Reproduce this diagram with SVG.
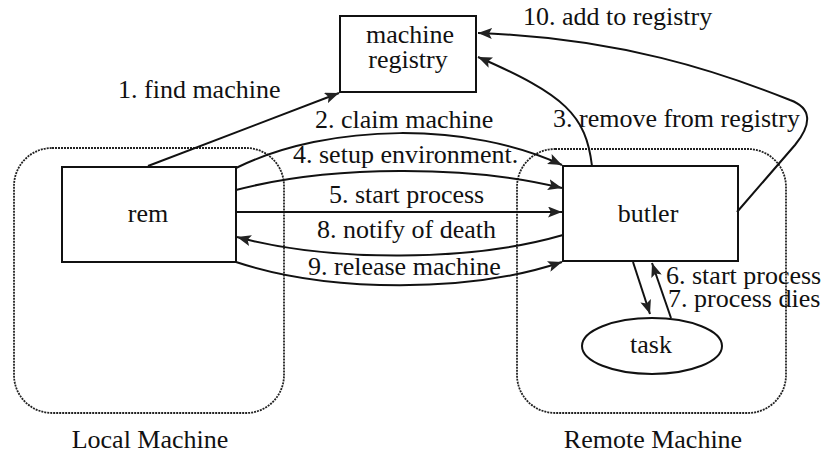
<svg xmlns="http://www.w3.org/2000/svg" width="828" height="455" viewBox="0 0 828 455">
<style>
.t{font-family:"Liberation Serif","Times New Roman",serif;font-size:26px;fill:#111}
.box{fill:#fff;stroke:#111;stroke-width:2}
.cont{fill:none;stroke:#222;stroke-width:1.8;stroke-dasharray:2 1}
.c{fill:none;stroke:#111;stroke-width:2}
.m{text-anchor:middle}
</style>
<defs>
<marker id="ah" markerUnits="userSpaceOnUse" markerWidth="15" markerHeight="11" refX="14" refY="5.5" orient="auto">
<path d="M0,0 L14,5.5 L0,11 L3,5.5 z" fill="#222"/>
</marker>
</defs>
<g id="local-machine">
<rect class="cont" x="14" y="148" width="270" height="265" rx="38" ry="38"/>
<text class="t m" x="150" y="448">Local Machine</text>
</g>
<g id="remote-machine">
<rect class="cont" x="517" y="149" width="269" height="264" rx="38" ry="38"/>
<text class="t m" x="653" y="448">Remote Machine</text>
</g>
<g id="registry">
<rect class="box" x="340" y="16" width="136" height="76"/>
<text class="t m" x="410" y="43">machine</text>
<text class="t m" x="408" y="68">registry</text>
</g>
<g id="rem">
<rect class="box" x="62" y="167" width="174" height="95"/>
<text class="t m" x="148" y="222">rem</text>
</g>
<g id="butler">
<rect class="box" x="563" y="166" width="175" height="95"/>
<text class="t m" x="648" y="222">butler</text>
</g>
<g id="task">
<ellipse class="box" cx="652" cy="346" rx="70" ry="28"/>
<text class="t m" x="651" y="353">task</text>
</g>
<g id="connectors">
<path class="c" d="M148,166 L339,93" marker-end="url(#ah)"/>
<path class="c" d="M236,168 C330,122 470,122 562,165" marker-end="url(#ah)"/>
<path class="c" d="M592,166 C586,115 565,95 478,57" marker-end="url(#ah)"/>
<path class="c" d="M236,190 C330,165 470,165 562,188" marker-end="url(#ah)"/>
<path class="c" d="M236,212 L562,212" marker-end="url(#ah)"/>
<path class="c" d="M633,262 L650,314" marker-end="url(#ah)"/>
<path class="c" d="M671,318 L652,263" marker-end="url(#ah)"/>
<path class="c" d="M563,235 C470,262 330,262 237,237" marker-end="url(#ah)"/>
<path class="c" d="M236,262 C330,293 470,293 562,262" marker-end="url(#ah)"/>
<path class="c" d="M737,212 L795,145 C812,124 812,108 790,100 C720,72 620,38 478,33" marker-end="url(#ah)"/>
</g>
<g id="labels">
<text class="t" x="118" y="98">1. find machine</text>
<text class="t" x="315" y="128">2. claim machine</text>
<text class="t" x="553" y="127">3. remove from registry</text>
<text class="t" x="293" y="163">4. setup environment.</text>
<text class="t" x="329" y="203">5. start process</text>
<text class="t" x="666" y="284">6. start process</text>
<text class="t" x="668" y="307">7. process dies</text>
<text class="t" x="317" y="238">8. notify of death</text>
<text class="t" x="308" y="275">9. release machine</text>
<text class="t" x="523" y="25">10. add to registry</text>
</g>
</svg>
